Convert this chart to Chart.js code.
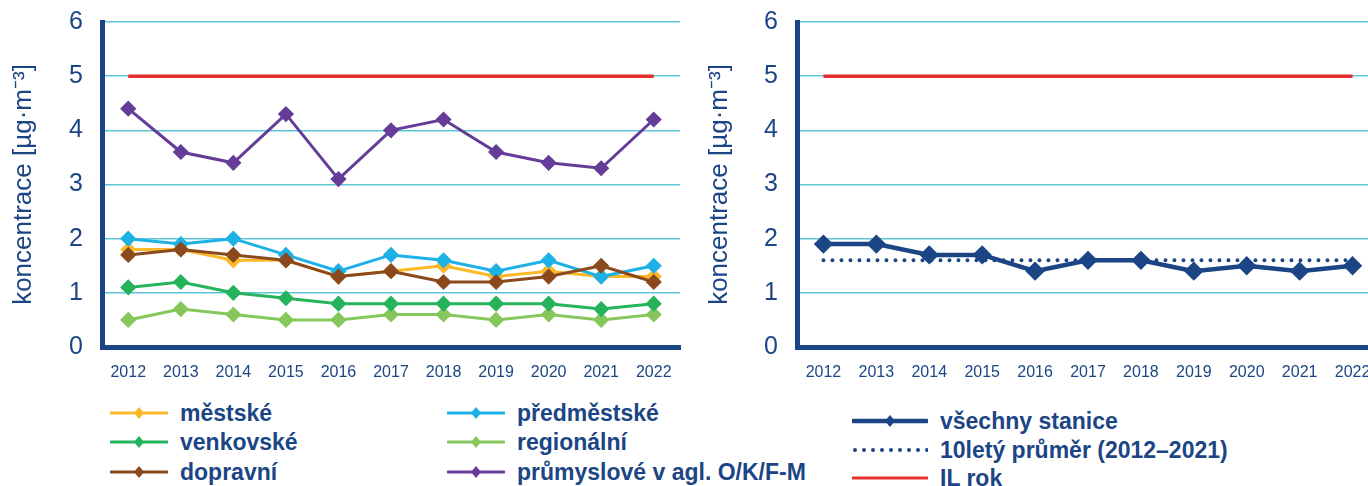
<!DOCTYPE html>
<html>
<head>
<meta charset="utf-8">
<script src="https://cdn.jsdelivr.net/npm/chart.js@4/dist/chart.umd.min.js"></script>
<style>
  body { margin: 0; width: 1368px; height: 486px; overflow: hidden; background: #fff;
         font-family: "Liberation Sans", Arial, sans-serif; position: relative; }
  .box { position: absolute; top: 0; height: 385px; }
  .legend { position: absolute; color: #1b4584; font-weight: bold; font-size: 23px; }
  .item { position: absolute; white-space: nowrap; display: flex; align-items: center; height: 26px; }
  .item svg { margin-right: 12px; }
</style>
</head>
<body>
<div class="box" style="left:0;width:690px"><canvas id="left"></canvas></div>
<div class="box" style="left:690px;width:700px"><canvas id="right"></canvas></div>
<div class="legend" id="legLeft"></div>
<div class="legend" id="legRight"></div>
<script>
// PM2.5 - roční průměry podle typu stanic

const years = ['2012','2013','2014','2015','2016','2017','2018','2019','2020','2021','2022'];

const mestske      = [1.8, 1.8, 1.6, 1.6, 1.3, 1.4, 1.5, 1.3, 1.4, 1.3, 1.3];
const predmestske  = [2.0, 1.9, 2.0, 1.7, 1.4, 1.7, 1.6, 1.4, 1.6, 1.3, 1.5];
const venkovske    = [1.1, 1.2, 1.0, 0.9, 0.8, 0.8, 0.8, 0.8, 0.8, 0.7, 0.8];
const regionalni   = [0.5, 0.7, 0.6, 0.5, 0.5, 0.6, 0.6, 0.5, 0.6, 0.5, 0.6];
const dopravni     = [1.7, 1.8, 1.7, 1.6, 1.3, 1.4, 1.2, 1.2, 1.3, 1.5, 1.2];
const prumyslove   = [4.4, 3.6, 3.4, 4.3, 3.1, 4.0, 4.2, 3.6, 3.4, 3.3, 4.2];

const vsechny      = [1.9, 1.9, 1.7, 1.7, 1.4, 1.6, 1.6, 1.4, 1.5, 1.4, 1.5];
const prumer10     = [1.6, 1.6, 1.6, 1.6, 1.6, 1.6, 1.6, 1.6, 1.6, 1.6, 1.6];
const limit        = [5, 5, 5, 5, 5, 5, 5, 5, 5, 5, 5];

const yTicks = [0, 1, 2, 3, 4, 5, 6];

const navy = '#1b4584';
const font = '"Liberation Sans", Arial, sans-serif';

function series(label, data, color) {
  return {
    label: label, data: data, borderColor: color, backgroundColor: color,
    borderWidth: 3, pointStyle: 'rectRot', pointRadius: 6, pointHoverRadius: 6
  };
}

function options(yWidth) {
  return {
    responsive: false,
    animation: false,
    layout: { padding: { top: 22, right: 0 } },
    plugins: { legend: { display: false }, tooltip: { enabled: false } },
    scales: {
      x: {
        offset: true,
        grid: { display: false },
        border: { color: navy, width: 5 },
        ticks: { color: navy, font: { family: font, size: 16 }, padding: 8, maxRotation: 0, autoSkip: false },
        afterFit: (s) => { s.height = 38; }
      },
      y: {
        min: 0, max: 6,
        afterBuildTicks: (s) => { s.ticks = yTicks.map(v => ({ value: v })); },
        grid: { color: '#5cc6d6', lineWidth: 1.5, drawTicks: false },
        border: { color: navy, width: 5 },
        ticks: { color: navy, font: { family: font, size: 25 }, padding: 19 },
        title: { display: true, text: 'koncentrace [µg·m⁻³]', color: navy,
                 font: { family: font, size: 26 }, padding: { top: 8, bottom: 0 } },
        afterFit: (s) => { s.width = yWidth; s.paddingTop = 0; s.paddingBottom = 0; }
      }
    }
  };
}

const leftSets = [
  { label: 'IL rok', data: limit, borderColor: '#e8302e', borderWidth: 3.5, pointRadius: 0 },
  series('průmyslové v agl. O/K/F-M', prumyslove, '#653d99'),
  series('dopravní', dopravni, '#8b4a1e'),
  series('předměstské', predmestske, '#1eb1e6'),
  series('městské', mestske, '#fbb928'),
  series('venkovské', venkovske, '#25b35c'),
  series('regionální', regionalni, '#86c75c')
];

const leftCanvas = document.getElementById('left');
leftCanvas.width = 690; leftCanvas.height = 385;
new Chart(leftCanvas, {
  type: 'line',
  data: { labels: years, datasets: leftSets },
  options: (() => { const o = options(102); o.layout.padding.right = 10; return o; })()
});

const rightSets = [
  { label: 'IL rok', data: limit, borderColor: '#e8302e', borderWidth: 3.5, pointRadius: 0 },
  { label: 'všechny stanice', data: vsechny, borderColor: navy, backgroundColor: navy,
    borderWidth: 4.5, pointStyle: 'rectRot', pointRadius: 6.5, pointHoverRadius: 6.5 },
  { label: '10letý průměr (2012–2021)', data: prumer10, borderColor: navy, borderWidth: 4,
    borderDash: [0, 9], borderCapStyle: 'round', pointRadius: 0 }
];

const rightCanvas = document.getElementById('right');
rightCanvas.width = 700; rightCanvas.height = 385;
new Chart(rightCanvas, {
  type: 'line',
  data: { labels: years, datasets: rightSets },
  options: (() => { const o = options(101); o.layout.padding.left = 6; o.layout.padding.right = 7; return o; })()
});

// legends as html, built from the dataset colours
function symbol(ds, len) {
  const c = ds.borderColor;
  let s = '<svg width="' + len + '" height="14">';
  if (ds.borderDash) {
    for (let x = 3; x < len; x += 9) s += '<circle cx="' + x + '" cy="7" r="2" fill="' + c + '"/>';
  } else {
    s += '<line x1="1" y1="7" x2="' + (len - 1) + '" y2="7" stroke="' + c + '" stroke-width="' + (ds.borderWidth > 4 ? 4.5 : 3) + '" stroke-linecap="round"/>';
    if (ds.pointRadius) {
      const m = len / 2;
      s += '<polygon points="' + m + ',1 ' + (m + 5) + ',7 ' + m + ',13 ' + (m - 5) + ',7" fill="' + c + '"/>';
    }
  }
  return s + '</svg>';
}

function byLabel(sets, l) { return sets.find(d => d.label === l); }

const leftOrder = [
  ['městské', 110, 400], ['předměstské', 447, 400],
  ['venkovské', 110, 429], ['regionální', 447, 429],
  ['dopravní', 110, 459], ['průmyslové v agl. O/K/F-M', 447, 459]
];
let html = '';
leftOrder.forEach(([l, x, y]) => {
  html += '<div class="item" style="left:' + x + 'px;top:' + y + 'px">' + symbol(byLabel(leftSets, l), 58) + l + '</div>';
});
document.getElementById('legLeft').innerHTML = html;

const rightOrder = [
  ['všechny stanice', 852, 408], ['10letý průměr (2012–2021)', 852, 437], ['IL rok', 852, 465]
];
html = '';
rightOrder.forEach(([l, x, y]) => {
  html += '<div class="item" style="left:' + x + 'px;top:' + y + 'px">' + symbol(byLabel(rightSets, l), 76) + l + '</div>';
});
document.getElementById('legRight').innerHTML = html;
</script>
</body>
</html>
